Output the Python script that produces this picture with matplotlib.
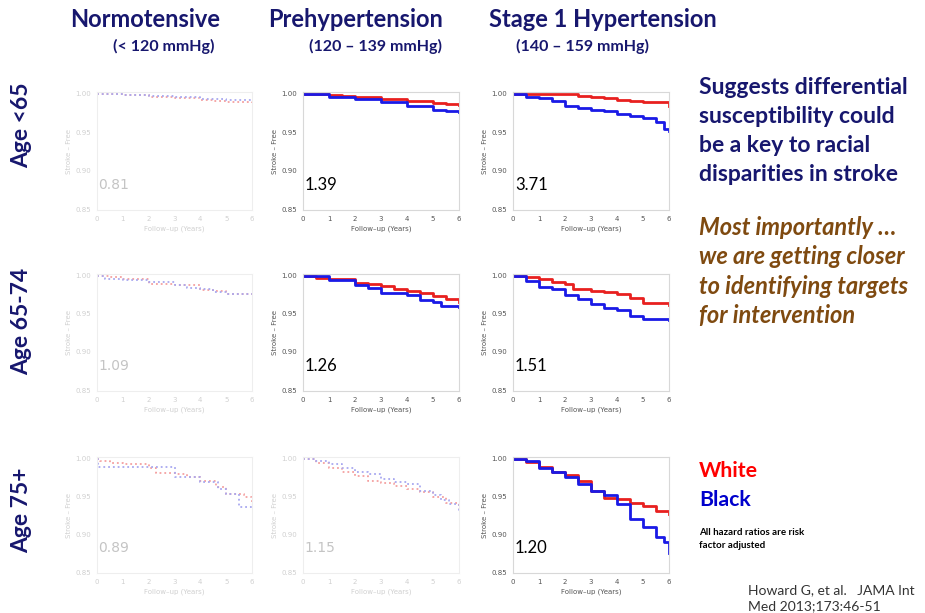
import matplotlib
matplotlib.use("Agg")
import matplotlib.pyplot as plt

W, H = 925, 613
navy = "#17176e"
brown = "#7f4a10"

# column / row headings
col_titles = ["Normotensive", "Prehypertension", "Stage 1 Hypertension"]
col_ranges = ["(< 120 mmHg)", "(120 – 139 mmHg)", "(140 – 159 mmHg)"]
row_titles = ["Age <65", "Age 65-74", "Age 75+"]

# hazard ratios (black vs white), row by row
hazard = [["0.81", "1.39", "3.71"],
          ["1.09", "1.26", "1.51"],
          ["0.89", "1.15", "1.20"]]
# faded panels in the slide
faded = [[True, False, False],
         [True, False, False],
         [True, True, False]]

# Kaplan-Meier curves (years, stroke-free)
white_t = [
    [[0, 1, 2, 3, 4, 4.5, 5, 5.5, 6],
     [0, 1, 1.5, 2, 3, 4, 5, 5.5, 6],
     [0, 2, 2.5, 3, 3.5, 4, 4.5, 5, 5.8, 6]],
    [[0, 0.5, 1, 2, 3, 4, 4.5, 5, 6],
     [0, 0.5, 1, 2, 2.5, 3, 3.5, 4, 4.5, 5, 5.5, 6],
     [0, 0.5, 1, 1.5, 2, 2.3, 3, 3.5, 4, 4.5, 5, 6]],
    [[0, 0.1, 0.5, 1, 2, 2.3, 3, 3.5, 4, 4.6, 5, 5.7, 6],
     [0, 0.5, 1, 1.5, 2, 2.5, 3, 3.5, 4, 4.5, 5, 5.5, 6],
     [0, 0.5, 1, 1.5, 2, 2.5, 3, 3.5, 4, 4.5, 5, 5.5, 6]],
]
white_s = [
    [[1.0, 0.9975, 0.996, 0.994, 0.992, 0.990, 0.9895, 0.989, 0.988],
     [1.0, 0.998, 0.997, 0.9957, 0.9923, 0.990, 0.988, 0.986, 0.9854],
     [1.0, 0.999, 0.997, 0.9957, 0.994, 0.9915, 0.990, 0.9885, 0.9885, 0.984]],
    [[1.0, 0.998, 0.9957, 0.989, 0.987, 0.9816, 0.980, 0.9764, 0.9756],
     [1.0, 0.997, 0.9949, 0.9906, 0.989, 0.9863, 0.983, 0.9799, 0.977, 0.9734, 0.969, 0.9649],
     [1.0, 0.998, 0.995, 0.992, 0.9884, 0.983, 0.980, 0.978, 0.9764, 0.971, 0.9636, 0.9619]],
    [[1.0, 0.9966, 0.994, 0.9922, 0.988, 0.9815, 0.979, 0.975, 0.9707, 0.963, 0.9534, 0.949, 0.9384],
     [1.0, 0.9944, 0.9879, 0.982, 0.9763, 0.9707, 0.9672, 0.9642, 0.9599, 0.9556, 0.949, 0.9414, 0.934],
     [1.0, 0.9957, 0.9892, 0.9827, 0.9784, 0.9697, 0.9568, 0.9481, 0.946, 0.9416, 0.9373, 0.9308, 0.9274]],
]
black_t = [
    [[0, 1, 2, 3, 4, 5, 6],
     [0, 1, 2, 3, 4, 5, 5.5, 6],
     [0, 0.5, 1, 1.5, 2, 2.5, 3, 3.5, 4, 4.5, 5, 5.5, 5.8, 6]],
    [[0, 0.3, 1, 2, 3, 3.5, 4, 4.5, 5, 6],
     [0, 1, 2, 2.5, 3, 4, 4.5, 5, 5.3, 6],
     [0, 0.5, 1, 1.5, 2, 2.5, 3, 3.5, 4, 4.5, 5, 6]],
    [[0, 0.05, 2.7, 3, 4, 4.7, 5, 5.5, 6],
     [0, 0.5, 1, 1.5, 2, 2.5, 3, 3.5, 4, 4.5, 5, 5.3, 5.6, 6],
     [0, 0.5, 1, 1.5, 2, 2.5, 3, 3.5, 4, 4.5, 5, 5.5, 5.8, 6]],
]
black_s = [
    [[1.0, 0.998, 0.9965, 0.995, 0.9935, 0.992, 0.9914],
     [1.0, 0.9957, 0.9927, 0.989, 0.984, 0.979, 0.9769, 0.9764],
     [1.0, 0.9957, 0.9936, 0.9906, 0.984, 0.981, 0.979, 0.977, 0.9736, 0.9706, 0.968, 0.963, 0.9544, 0.951]],
    [[1.0, 0.996, 0.9936, 0.9914, 0.987, 0.9837, 0.9829, 0.978, 0.9764, 0.9756],
     [1.0, 0.994, 0.9876, 0.984, 0.9777, 0.974, 0.9679, 0.966, 0.9606, 0.9584],
     [1.0, 0.9927, 0.9854, 0.982, 0.9743, 0.969, 0.9627, 0.958, 0.955, 0.9477, 0.9434, 0.942]],
    [[1.0, 0.9888, 0.9888, 0.9759, 0.9685, 0.960, 0.9534, 0.936, 0.936],
     [1.0, 0.9966, 0.9922, 0.988, 0.9823, 0.979, 0.9728, 0.9685, 0.9664, 0.9578, 0.9515, 0.945, 0.9405, 0.9297],
     [1.0, 0.997, 0.987, 0.982, 0.9762, 0.9663, 0.9576, 0.9524, 0.9395, 0.920, 0.9092, 0.8962, 0.8897, 0.8755]],
]

fig = plt.figure(figsize=(W / 100, H / 100), dpi=100)


def fx(px):
    return px / W


def fy(py):
    return 1 - py / H


# panel boxes in pixels: left, right / top, bottom
col_x = [(97, 252), (303, 459), (513, 669)]
row_y = [(92, 210), (274, 391), (457, 573)]

for r in range(3):
    for c in range(3):
        x0, x1 = col_x[c]
        y0, y1 = row_y[r]
        ax = fig.add_axes([fx(x0), fy(y1), fx(x1 - x0), (y1 - y0) / H])
        fade = faded[r][c]
        if fade:
            red, blue, lw, ls = "#f4a0a0", "#a8a8f0", 1.3, ":"
            tick_c, frame_c = "#d0d0d0", "#eeeeee"
        else:
            red, blue, lw, ls = "#e8201f", "#1a1ae6", 2.0, "-"
            tick_c, frame_c = "#555555", "#d8d8d8"
        ax.plot(white_t[r][c], white_s[r][c], drawstyle="steps-post",
                color=red, lw=lw, ls=ls)
        ax.plot(black_t[r][c], black_s[r][c], drawstyle="steps-post",
                color=blue, lw=lw, ls=ls)
        ax.set_xlim(0, 6)
        ax.set_ylim(0.849, 1.002)
        ax.set_xticks(range(7))
        ax.set_yticks([0.85, 0.90, 0.95, 1.00])
        ax.set_yticklabels(["0.85", "0.90", "0.95", "1.00"])
        ax.tick_params(labelsize=5, colors=tick_c, length=0, pad=4)
        for s in ax.spines.values():
            s.set_color(frame_c)
            s.set_linewidth(0.8)
        ax.set_xlabel("Follow–up (Years)", fontsize=5, color=tick_c, labelpad=3)
        ax.set_ylabel("Stroke – Free", fontsize=5, color=tick_c, labelpad=3)
        if fade:
            ax.text(0.05, 0.882, hazard[r][c], fontsize=10, color="#c4c4c4",
                    family="DejaVu Sans", va="center")
        else:
            ax.text(0.08, 0.882, hazard[r][c], fontsize=12, color="black",
                    family="Lato", va="center")

# headings
title_x = [70, 268, 489]
range_x = [113, 309, 516]
for i in range(3):
    fig.text(fx(title_x[i]), fy(27), col_titles[i], fontsize=17, weight="bold",
             color=navy, family="Lato", va="baseline")
    fig.text(fx(range_x[i]), fy(51), col_ranges[i], fontsize=11.5, weight="bold",
             color=navy, family="Lato", va="baseline")

row_cy = [125, 321, 510]
for i in range(3):
    fig.text(fx(22), fy(row_cy[i]), row_titles[i], fontsize=16.5, weight="bold",
             color=navy, family="Lato", rotation=90, ha="center", va="center")

# right-hand notes
lines1 = ["Suggests differential", "susceptibility could",
          "be a key to racial", "disparities in stroke"]
for i, s in enumerate(lines1):
    fig.text(fx(699), fy(94 + 29 * i), s, fontsize=16.5, weight="bold",
             color=navy, family="Lato", va="baseline")
lines2 = ["Most importantly …", "we are getting closer",
          "to identifying targets", "for intervention"]
for i, s in enumerate(lines2):
    fig.text(fx(699), fy(235 + 29.5 * i), s, fontsize=17, weight="bold",
             style="italic", color=brown, family="Lato", va="baseline")

fig.text(fx(699), fy(477), "White", fontsize=15.3, weight="bold", color="#ff0000",
         family="Lato", va="baseline")
fig.text(fx(699), fy(506), "Black", fontsize=15.3, weight="bold", color="#0000cc",
         family="Lato", va="baseline")
fig.text(fx(699), fy(535), "All hazard ratios are risk", fontsize=7, weight="bold",
         color="black", family="Lato", va="baseline")
fig.text(fx(699), fy(548), "factor adjusted", fontsize=7, weight="bold",
         color="black", family="Lato", va="baseline")
fig.text(fx(748), fy(594), "Howard G, et al.   JAMA Int", fontsize=10,
         color="#333333", family="Lato", va="baseline")
fig.text(fx(748), fy(610), "Med 2013;173:46-51", fontsize=10,
         color="#333333", family="Lato", va="baseline")

fig.savefig("out.png", dpi=100)
